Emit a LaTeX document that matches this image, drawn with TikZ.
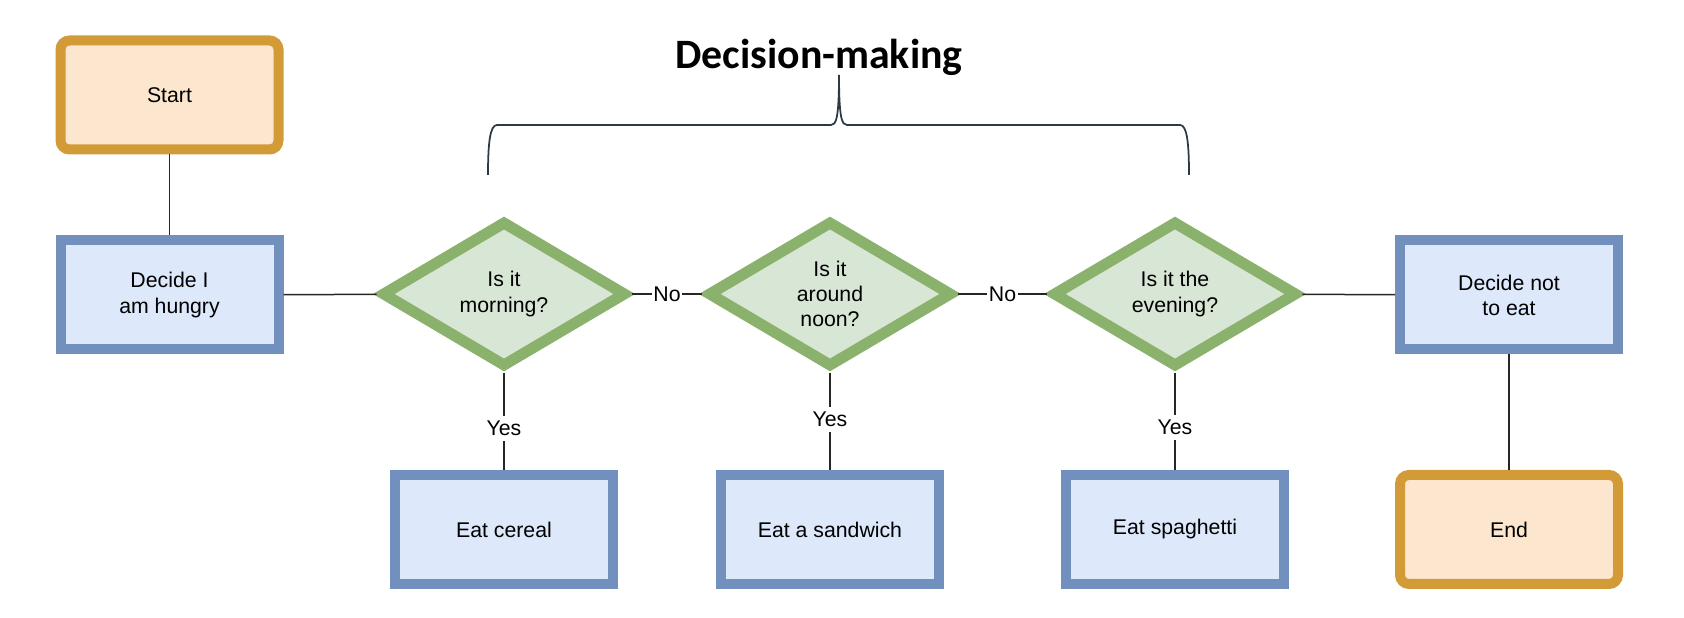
\documentclass[tikz,border=0pt]{standalone}
\usepackage{fontspec}
\setmainfont{Liberation Sans}
\newfontfamily\headfont{Carlito}
\usetikzlibrary{shapes.geometric}

\definecolor{orangeline}{HTML}{D29B37}
\definecolor{orangefill}{HTML}{FCE6CE}
\definecolor{blueline}{HTML}{7190BE}
\definecolor{bluefill}{HTML}{DDE8FA}
\definecolor{greenline}{HTML}{8AB26C}
\definecolor{greenfill}{HTML}{D8E7D5}
\definecolor{braceline}{HTML}{2B3A45}

\newcommand{\boxfont}{\fontsize{12.1}{14.3}\selectfont}

\tikzset{
  terminal/.style={draw=orangeline, fill=orangefill, line width=0.2cm, rounded corners=0.18cm,
    minimum width=4.36cm, minimum height=2.18cm, align=center, font=\boxfont},
  process/.style={draw=blueline, fill=bluefill, line width=0.2cm,
    minimum width=4.36cm, minimum height=2.18cm, align=center, font=\boxfont},
  decision/.style={diamond, draw=greenline, fill=greenfill, line width=0.22cm, aspect=1.67,
    minimum width=4.9cm, minimum height=2.93cm, inner sep=0pt, align=center, font=\boxfont},
  link/.style={draw=black!85, line width=0.03cm},
  answer/.style={fill=white, inner xsep=1pt, inner ysep=2.8pt, font=\boxfont},
}

\begin{document}
\begin{tikzpicture}
    \useasboundingbox (0,0) rectangle (33.68,12.36);

    % heading and brace
    \node[anchor=base, font=\headfont\bfseries\fontsize{23.8}{28}\selectfont] (heading) at (16.38, 10.98) {Decision-making};
    \draw[braceline, line width=0.035cm] (9.76, 8.86) .. controls (9.76, 9.5) and (9.8, 9.86) .. (9.94, 9.86)
      -- (16.62, 9.86) .. controls (16.72, 9.86) and (16.78, 9.98) .. (16.78, 10.86)
      .. controls (16.78, 9.98) and (16.84, 9.86) .. (16.94, 9.86)
      -- (23.6, 9.86) .. controls (23.74, 9.86) and (23.78, 9.5) .. (23.78, 8.86);

    % nodes
    \node[terminal] (start) at (3.39, 10.46) {Start};
    \node[process] (hungry) at (3.39, 6.46) {Decide I\\am hungry};
    \node[decision] (morning) at (10.08, 6.48) {Is it\\morning?};
    \node[decision] (noon) at (16.6, 6.48) {Is it\\around\\noon?};
    \node[decision] (evening) at (23.5, 6.48) {Is it the\\evening?};
    \node[process] (noteat) at (30.18, 6.46) {Decide not\\to eat};
    \node[process] (cereal) at (10.08, 1.77) {Eat cereal};
    \node[process] (sandwich) at (16.6, 1.77) {Eat a sandwich};
    \node[process] (spaghetti) at (23.5, 1.77) {Eat spaghetti};
    \node[terminal] (stop) at (30.18, 1.77) {End};

    % connectors
    \draw[link] (start) -- (hungry);
    \draw[link] (hungry) -- (morning);
    \draw[link] (morning) -- node[answer] {No} (noon);
    \draw[link] (noon) -- node[answer] {No} (evening);
    \draw[link] (evening) -- (noteat);
    \draw[link] (noteat) -- (stop);
    \draw[link] (morning) -- node[answer, pos=0.57] {Yes} (cereal);
    \draw[link] (noon) -- node[answer, pos=0.48] {Yes} (sandwich);
    \draw[link] (evening) -- node[answer, pos=0.56] {Yes} (spaghetti);
\end{tikzpicture}
\end{document}
